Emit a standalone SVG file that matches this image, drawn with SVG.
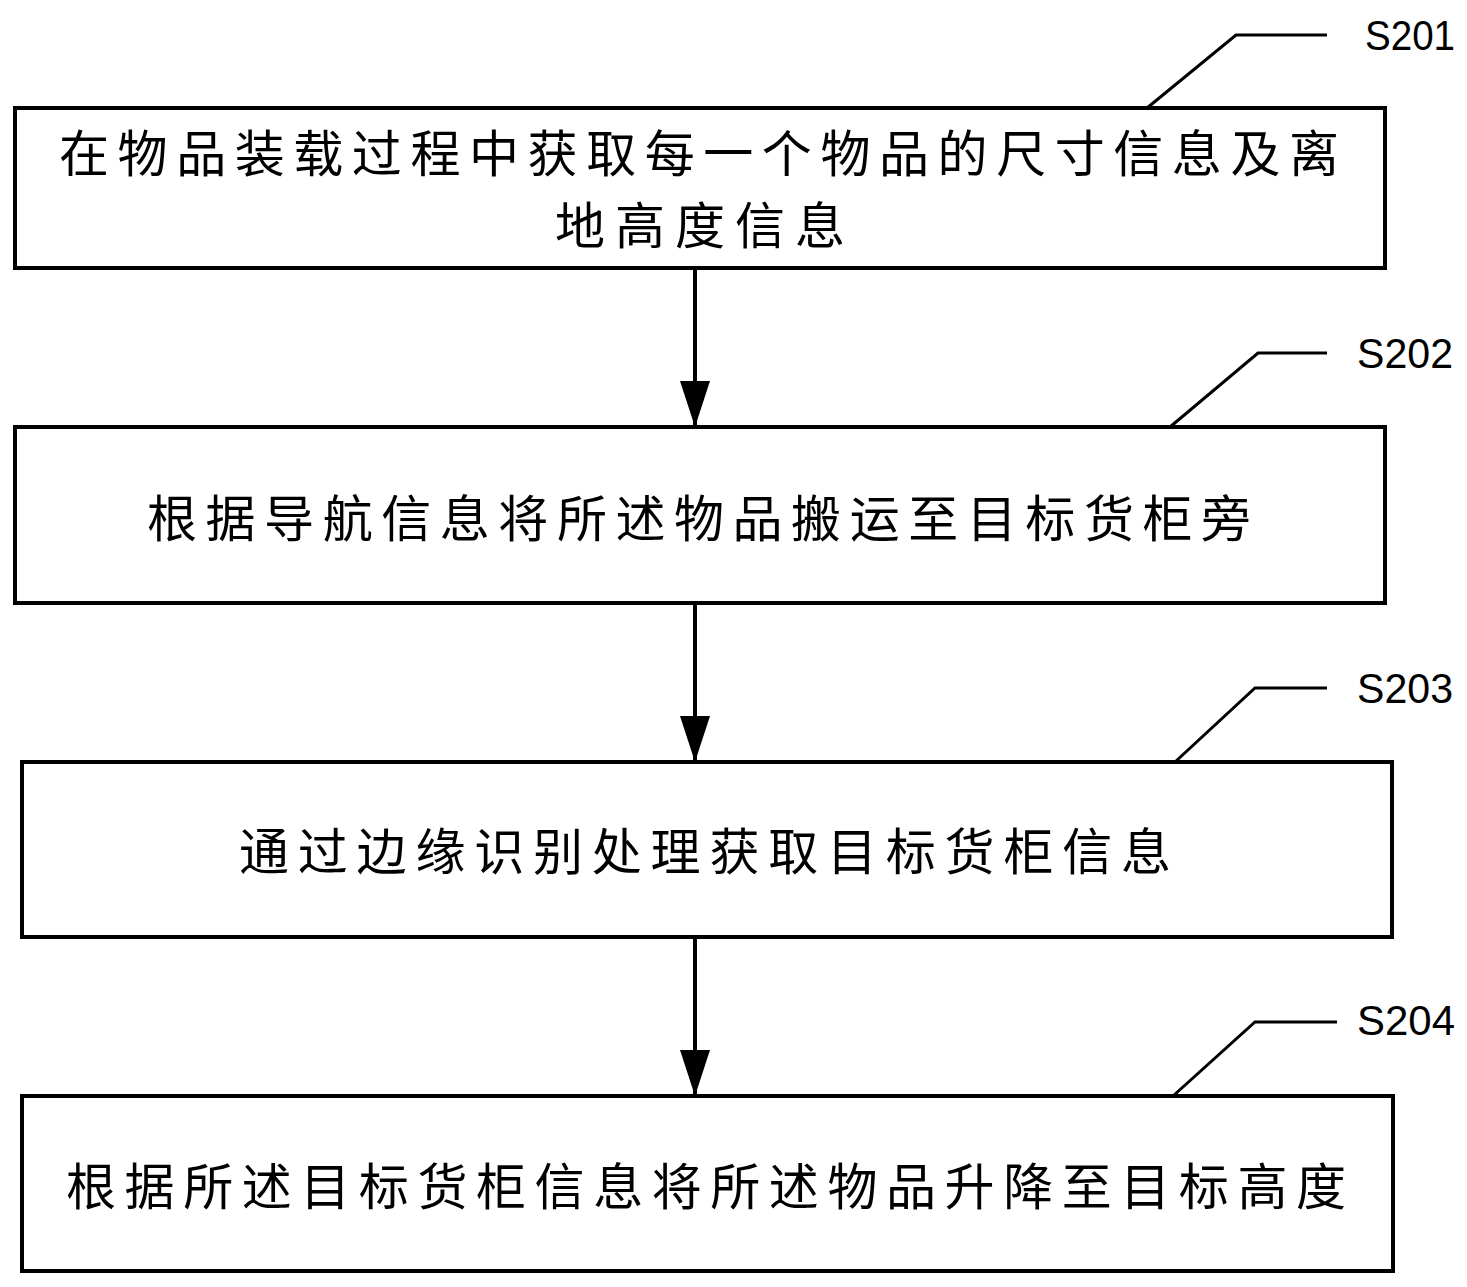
<svg xmlns="http://www.w3.org/2000/svg" width="1467" height="1287" viewBox="0 0 1467 1287">
<defs>
<style>
.box{fill:#fff;stroke:#000;stroke-width:4}
.t{font-family:"Noto Sans CJK SC","Noto Sans",sans-serif;font-size:50px;fill:#000;text-anchor:middle;dominant-baseline:central}
.lbl{font-family:"Liberation Sans",Arial,sans-serif;font-size:42px;fill:#000}
.lead{fill:none;stroke:#000;stroke-width:3}
.conn{stroke:#000;stroke-width:4;fill:none}
</style>
<marker id="ah" markerUnits="userSpaceOnUse" markerWidth="46" markerHeight="32" refX="46" refY="16" orient="auto">
<path d="M0,1 L46,16 L0,31 Z" fill="#000"/>
</marker>
</defs>
<rect width="1467" height="1287" fill="#fff"/>
<g id="connectors">
<line class="conn" x1="695" y1="268" x2="695" y2="427" marker-end="url(#ah)"/>
<line class="conn" x1="695" y1="603" x2="695" y2="762" marker-end="url(#ah)"/>
<line class="conn" x1="695" y1="937" x2="695" y2="1096" marker-end="url(#ah)"/>
</g>
<g id="S201">
<rect class="box" x="15" y="108" width="1370" height="160"/>
<text class="t" x="699" y="150" textLength="1280" lengthAdjust="spacing">在物品装载过程中获取每一个物品的尺寸信息及离</text>
<text class="t" x="700" y="222" textLength="290" lengthAdjust="spacing">地高度信息</text>
<polyline class="lead" points="1147,108 1236,35 1327,35"/>
<text class="lbl" x="1365" y="50" textLength="90" lengthAdjust="spacingAndGlyphs">S201</text>
</g>
<g id="S202">
<rect class="box" x="15" y="427" width="1370" height="176"/>
<text class="t" x="699" y="515" textLength="1104" lengthAdjust="spacing">根据导航信息将所述物品搬运至目标货柜旁</text>
<polyline class="lead" points="1170,427 1258,353 1327,353"/>
<text class="lbl" x="1357" y="368" textLength="96" lengthAdjust="spacingAndGlyphs">S202</text>
</g>
<g id="S203">
<rect class="box" x="22" y="762" width="1370" height="175"/>
<text class="t" x="705" y="848" textLength="932" lengthAdjust="spacing">通过边缘识别处理获取目标货柜信息</text>
<polyline class="lead" points="1175,762 1255,688 1327,688"/>
<text class="lbl" x="1357" y="703" textLength="96" lengthAdjust="spacingAndGlyphs">S203</text>
</g>
<g id="S204">
<rect class="box" x="22" y="1096" width="1371" height="175"/>
<text class="t" x="706" y="1183" textLength="1280" lengthAdjust="spacing">根据所述目标货柜信息将所述物品升降至目标高度</text>
<polyline class="lead" points="1173,1096 1255,1022 1337,1022"/>
<text class="lbl" x="1357" y="1035" textLength="98" lengthAdjust="spacingAndGlyphs">S204</text>
</g>
</svg>
